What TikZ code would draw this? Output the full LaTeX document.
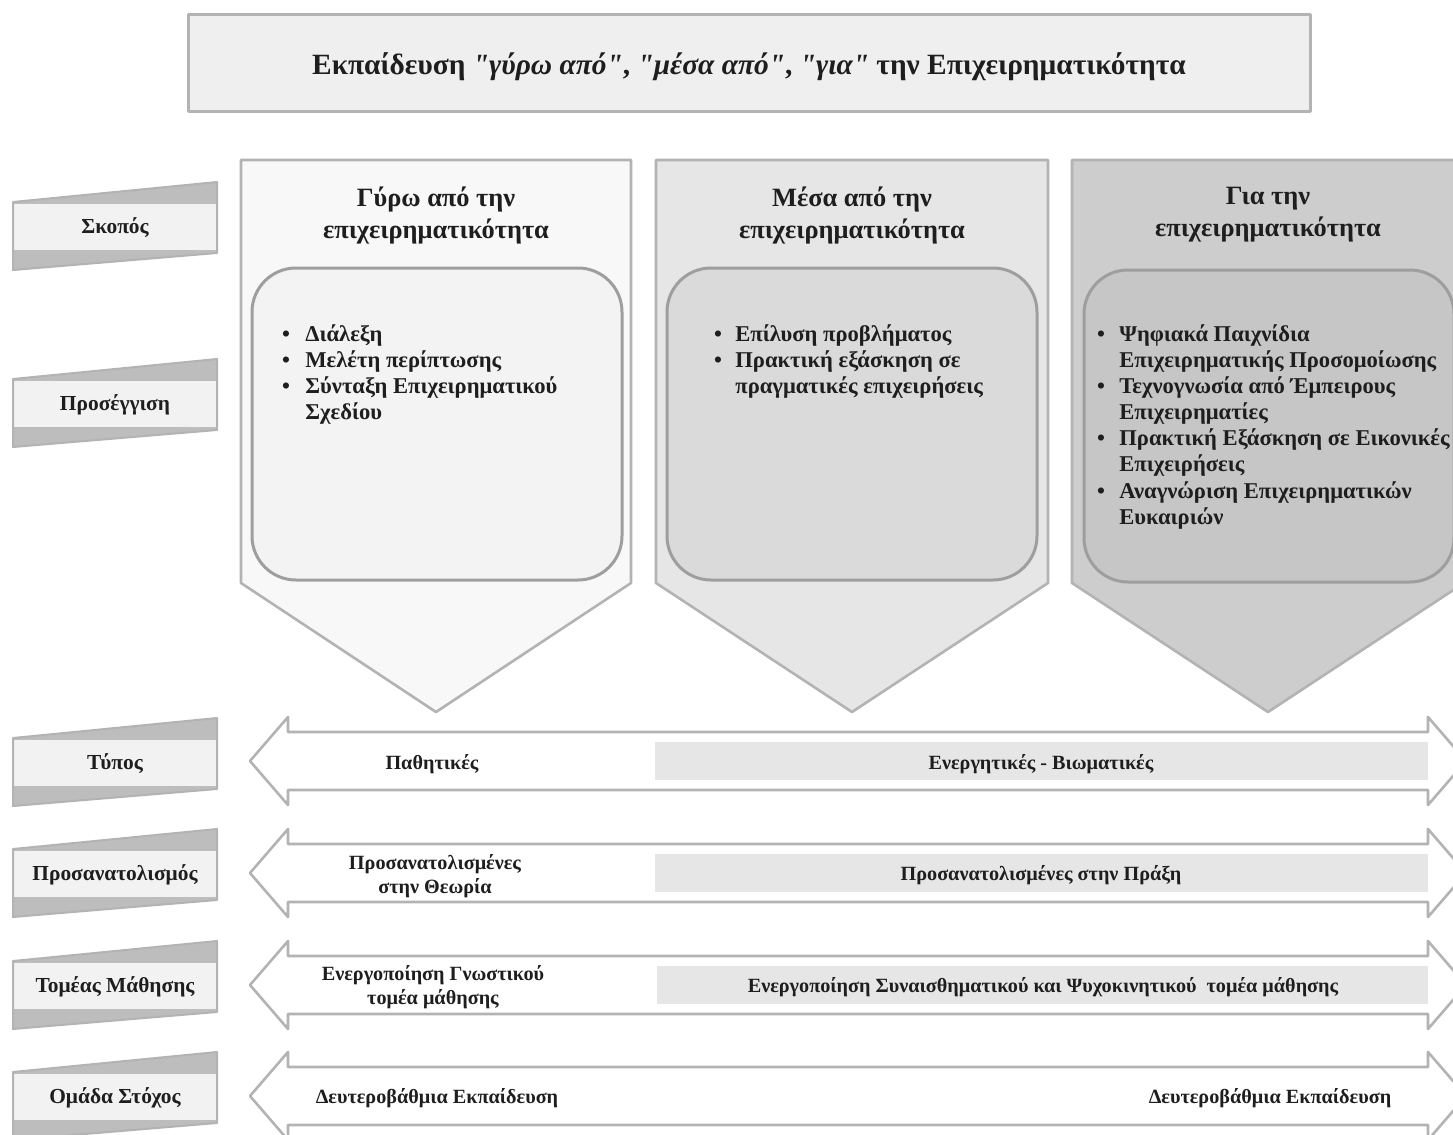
\documentclass[tikz,border=0pt]{standalone}
\usepackage{fontspec}
\setmainfont{Liberation Serif}[Ligatures=TeXOff]
\definecolor{edge}{HTML}{B3B3B3}
\definecolor{titlefill}{HTML}{EFEFEF}
\definecolor{lablight}{HTML}{F2F2F2}
\definecolor{labdark}{HTML}{BDBDBD}
\definecolor{colA}{HTML}{F8F8F8}
\definecolor{colAin}{HTML}{F3F3F3}
\definecolor{colB}{HTML}{E6E6E6}
\definecolor{colBin}{HTML}{DADADA}
\definecolor{colC}{HTML}{CDCDCD}
\definecolor{colCin}{HTML}{C6C6C6}
\definecolor{inneredge}{HTML}{9E9E9E}
\definecolor{rowfill}{HTML}{E6E6E6}
\definecolor{ink}{HTML}{1E1E1E}
\tikzset{
  titletext/.style={font=\bfseries\fontsize{14.7pt}{18pt}\selectfont, text=ink, inner sep=0pt},
  labtext/.style={font=\bfseries\fontsize{10.7pt}{13pt}\selectfont, text=ink, inner sep=0pt},
  headtext/.style={font=\bfseries\fontsize{13.2pt}{16pt}\selectfont, text=ink, align=center, inner sep=0pt},
  bultext/.style={font=\bfseries\fontsize{11.3pt}{13pt}\selectfont, text=ink, anchor=base west, inner sep=0pt},
  bulmark/.style={font=\bfseries\fontsize{11.3pt}{13pt}\selectfont, text=ink, anchor=base, inner sep=0pt},
  rowtext/.style={font=\bfseries\fontsize{10.1pt}{12pt}\selectfont, text=ink, align=center, inner sep=0pt},
  outline/.style={draw=edge, line width=1.3pt},
  innerbox/.style={draw=inneredge, line width=1.5pt, rounded corners=22pt},
}
\newcommand{\sidelab}[3]{%
  \fill[labdark] (13,#2-24) -- (217,#2-44) -- (217,#2+27) -- (13,#2+44) -- cycle;
  \fill[lablight] (13,#2-22) rectangle (217,#2+24);
  \draw[draw=edge, line width=1pt] (13,#2-24) -- (217,#2-44) -- (217,#2+27) -- (13,#2+44) -- cycle;
  \node[labtext] (#1) at (115,#2+2) {#3};}
\newcommand{\dcol}[3]{%
  \draw[outline, fill=#3] (#1,160) -- (#2,160) -- (#2,583) -- ({(#1+#2)/2},712) -- (#1,583) -- cycle;}
\newcommand{\darrow}[1]{%
  \draw[outline, fill=white] (250,#1) -- (288,#1-44) -- (288,#1-29) -- (1428,#1-29) -- (1428,#1-44)
    -- (1466,#1) -- (1428,#1+44) -- (1428,#1+29) -- (288,#1+29) -- (288,#1+44) -- cycle;}
\begin{document}
\begin{tikzpicture}[x=0.5pt,y=-0.5pt,line join=round]
\useasboundingbox (0,0) rectangle (1453,1135);
\fill[white] (0,0) rectangle (1453,1135);

% title
\draw[draw=edge, line width=1.5pt, fill=titlefill] (188,14) rectangle (1310,111);
\node[titletext] (title) at (749,67) {Εκπαίδευση \textit{"γύρω από"}, \textit{"μέσα από"}, \textit{"για"} την Επιχειρηματικότητα};

% side labels
\sidelab{skopos}{226}{Σκοπός}
\sidelab{prosegg}{403}{Προσέγγιση}
\sidelab{typos}{762}{Τύπος}
\sidelab{prosan}{873}{Προσανατολισμός}
\sidelab{tomeas}{985}{Τομέας Μάθησης}
\sidelab{omada}{1096}{Ομάδα Στόχος}

% columns
\dcol{241}{631}{colA}
\dcol{656}{1048}{colB}
\dcol{1072}{1464}{colC}
\draw[innerbox, fill=colAin] (252,268) rectangle (622,580);
\draw[innerbox, fill=colBin] (667,268) rectangle (1037,580);
\draw[innerbox, fill=colCin] (1084,270) rectangle (1454,582);

\node[headtext] (h1) at (436,215) {Γύρω από την\\επιχειρηματικότητα};
\node[headtext] (h2) at (852,215) {Μέσα από την\\επιχειρηματικότητα};
\node[headtext] (h3) at (1268,215) {Για την\\επιχειρηματικότητα};

% column 1 bullets
\node[bulmark] (b11) at (286,341) {•};
\node[bultext] (t11) at (305,341) {Διάλεξη};
\node[bulmark] (b12) at (286,367) {•};
\node[bultext] (t12) at (305,367) {Μελέτη περίπτωσης};
\node[bulmark] (b13) at (286,393) {•};
\node[bultext] (t13) at (305,393) {Σύνταξη Επιχειρηματικού};
\node[bultext] (t14) at (305,419) {Σχεδίου};

% column 2 bullets
\node[bulmark] (b21) at (718,341) {•};
\node[bultext] (t21) at (735,341) {Επίλυση προβλήματος};
\node[bulmark] (b22) at (718,367) {•};
\node[bultext] (t22) at (735,367) {Πρακτική εξάσκηση σε};
\node[bultext] (t23) at (735,393) {πραγματικές επιχειρήσεις};

% column 3 bullets
\node[bulmark] (b31) at (1101,341) {•};
\node[bultext] (t31) at (1119,341) {Ψηφιακά Παιχνίδια};
\node[bultext] (t32) at (1119,367) {Επιχειρηματικής Προσομοίωσης};
\node[bulmark] (b33) at (1101,393) {•};
\node[bultext] (t33) at (1119,393) {Τεχνογνωσία από Έμπειρους};
\node[bultext] (t34) at (1119,419) {Επιχειρηματίες};
\node[bulmark] (b35) at (1101,445) {•};
\node[bultext] (t35) at (1119,445) {Πρακτική Εξάσκηση σε Εικονικές};
\node[bultext] (t36) at (1119,471) {Επιχειρήσεις};
\node[bulmark] (b37) at (1101,498) {•};
\node[bultext] (t37) at (1119,498) {Αναγνώριση Επιχειρηματικών};
\node[bultext] (t38) at (1119,524) {Ευκαιριών};

% row arrows
\darrow{761}
\darrow{873}
\darrow{985}
\darrow{1096}
\fill[rowfill] (655,742) rectangle (1428,780);
\fill[rowfill] (655,854) rectangle (1428,892);
\fill[rowfill] (657,966) rectangle (1428,1004);

\node[rowtext] (r1l) at (432,764) {Παθητικές};
\node[rowtext] (r1r) at (1041,764) {Ενεργητικές - Βιωματικές};
\node[rowtext] (r2l) at (435,876) {Προσανατολισμένες\\στην Θεωρία};
\node[rowtext] (r2r) at (1041,875) {Προσανατολισμένες στην Πράξη};
\node[rowtext] (r3l) at (433,987) {Ενεργοποίηση Γνωστικού\\τομέα μάθησης};
\node[rowtext] (r3r) at (1043,987) {Ενεργοποίηση Συναισθηματικού και Ψυχοκινητικού\ \ τομέα μάθησης};
\node[rowtext] (r4l) at (437,1098) {Δευτεροβάθμια Εκπαίδευση};
\node[rowtext] (r4r) at (1270,1098) {Δευτεροβάθμια Εκπαίδευση};
\end{tikzpicture}
\end{document}
